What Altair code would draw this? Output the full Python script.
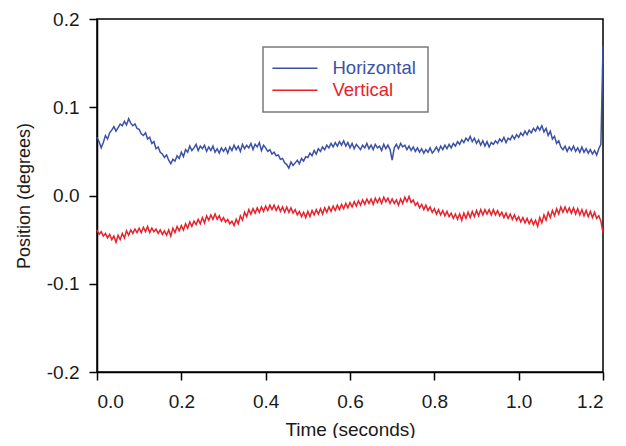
import altair as alt
import pandas as pd

# time samples (seconds), one every 0.005 s
time_s = [round(i * 0.005, 3) for i in range(241)]

horizontal = [
    0.066, 0.061, 0.054, 0.060, 0.068, 0.064, 0.071, 0.074, 0.078, 0.073, 0.077, 0.081, 0.079, 0.084, 0.080, 0.087, 0.082, 0.079, 0.081, 0.076,
    0.075, 0.070, 0.068, 0.071, 0.064, 0.066, 0.059, 0.061, 0.053, 0.055, 0.049, 0.047, 0.043, 0.046, 0.040, 0.036, 0.041, 0.039, 0.045, 0.042,
    0.049, 0.044, 0.052, 0.049, 0.056, 0.051, 0.054, 0.058, 0.051, 0.056, 0.053, 0.057, 0.050, 0.055, 0.051, 0.056, 0.049, 0.053, 0.048, 0.054,
    0.050, 0.054, 0.048, 0.055, 0.051, 0.057, 0.052, 0.056, 0.050, 0.058, 0.053, 0.057, 0.054, 0.059, 0.052, 0.058, 0.055, 0.060, 0.051, 0.057,
    0.054, 0.050, 0.052, 0.047, 0.049, 0.045, 0.046, 0.041, 0.042, 0.037, 0.035, 0.031, 0.038, 0.034, 0.037, 0.040, 0.036, 0.042, 0.039, 0.044,
    0.043, 0.048, 0.045, 0.051, 0.047, 0.053, 0.050, 0.055, 0.052, 0.057, 0.054, 0.059, 0.055, 0.060, 0.056, 0.061, 0.057, 0.062, 0.056, 0.060,
    0.054, 0.059, 0.053, 0.058, 0.055, 0.052, 0.057, 0.054, 0.059, 0.053, 0.057, 0.052, 0.058, 0.054, 0.056, 0.051, 0.058, 0.053, 0.057, 0.052,
    0.040, 0.054, 0.058, 0.053, 0.059, 0.055, 0.057, 0.052, 0.056, 0.051, 0.055, 0.050, 0.054, 0.049, 0.053, 0.048, 0.052, 0.049, 0.054, 0.048,
    0.051, 0.055, 0.050, 0.056, 0.052, 0.057, 0.053, 0.058, 0.054, 0.059, 0.056, 0.061, 0.058, 0.063, 0.060, 0.065, 0.062, 0.067, 0.061, 0.065,
    0.059, 0.063, 0.057, 0.062, 0.056, 0.061, 0.055, 0.060, 0.058, 0.062, 0.059, 0.064, 0.061, 0.066, 0.060, 0.065, 0.063, 0.068, 0.064, 0.069,
    0.066, 0.071, 0.068, 0.073, 0.069, 0.074, 0.071, 0.076, 0.073, 0.078, 0.074, 0.079, 0.072, 0.076, 0.068, 0.073, 0.064, 0.067, 0.059, 0.062,
    0.055, 0.052, 0.056, 0.050, 0.055, 0.051, 0.056, 0.050, 0.054, 0.049, 0.055, 0.049, 0.053, 0.048, 0.052, 0.047, 0.051, 0.046, 0.053, 0.058,
    0.170,
]

vertical = [
    -0.039, -0.044, -0.041, -0.046, -0.043, -0.048, -0.044, -0.050, -0.046, -0.053, -0.045, -0.050, -0.043, -0.048, -0.040, -0.045, -0.039, -0.043, -0.038, -0.042,
    -0.037, -0.042, -0.036, -0.041, -0.035, -0.042, -0.037, -0.041, -0.038, -0.043, -0.039, -0.044, -0.040, -0.045, -0.039, -0.046, -0.037, -0.042, -0.035, -0.040,
    -0.034, -0.039, -0.032, -0.037, -0.030, -0.035, -0.029, -0.033, -0.027, -0.032, -0.025, -0.031, -0.023, -0.028, -0.022, -0.027, -0.021, -0.027, -0.023, -0.029,
    -0.025, -0.030, -0.027, -0.032, -0.029, -0.034, -0.027, -0.032, -0.023, -0.028, -0.019, -0.024, -0.016, -0.021, -0.015, -0.020, -0.014, -0.019, -0.013, -0.018,
    -0.012, -0.017, -0.011, -0.016, -0.011, -0.017, -0.012, -0.018, -0.013, -0.019, -0.013, -0.019, -0.014, -0.020, -0.016, -0.022, -0.018, -0.024, -0.019, -0.025,
    -0.018, -0.024, -0.017, -0.022, -0.016, -0.021, -0.015, -0.021, -0.014, -0.019, -0.013, -0.018, -0.012, -0.017, -0.011, -0.016, -0.010, -0.015, -0.009, -0.014,
    -0.008, -0.013, -0.007, -0.012, -0.006, -0.011, -0.005, -0.010, -0.004, -0.009, -0.004, -0.010, -0.003, -0.008, -0.003, -0.009, -0.002, -0.007, -0.003, -0.009,
    -0.004, -0.009, -0.005, -0.011, -0.004, -0.009, -0.002, -0.007, -0.001, -0.008, -0.005, -0.011, -0.008, -0.014, -0.010, -0.016, -0.011, -0.017, -0.013, -0.019,
    -0.015, -0.021, -0.016, -0.022, -0.017, -0.023, -0.018, -0.024, -0.020, -0.026, -0.021, -0.027, -0.021, -0.028, -0.020, -0.026, -0.019, -0.025, -0.018, -0.024,
    -0.017, -0.023, -0.016, -0.022, -0.016, -0.021, -0.016, -0.022, -0.016, -0.022, -0.017, -0.023, -0.019, -0.025, -0.020, -0.026, -0.021, -0.027, -0.022, -0.028,
    -0.024, -0.030, -0.025, -0.031, -0.026, -0.032, -0.027, -0.033, -0.028, -0.035, -0.025, -0.031, -0.022, -0.028, -0.019, -0.025, -0.017, -0.023, -0.015, -0.021,
    -0.013, -0.019, -0.013, -0.019, -0.014, -0.020, -0.014, -0.021, -0.015, -0.022, -0.016, -0.023, -0.017, -0.024, -0.018, -0.025, -0.019, -0.026, -0.023, -0.029,
    -0.042,
]

series_names = ["Horizontal", "Vertical"]
series_colors = ["#3b51a5", "#e8212b"]
x_ticks = [0.0, 0.2, 0.4, 0.6, 0.8, 1.0, 1.2]
y_ticks = [-0.2, -0.1, 0.0, 0.1, 0.2]

rows = []
for t, h in zip(time_s, horizontal):
    rows.append({"t": t, "v": h, "series": "Horizontal"})
for t, v in zip(time_s, vertical):
    rows.append({"t": t, "v": v, "series": "Vertical"})
df = pd.DataFrame(rows)

FONT = "Liberation Sans"
label_expr = "datum.value < 0 ? '-' + format(-datum.value, '.1f') : format(datum.value, '.1f')"
legend_color_expr = (
    "datum.value == '" + series_names[0] + "' ? '" + series_colors[0] + "' : '" + series_colors[1] + "'"
)

chart = (
    alt.Chart(df)
    .mark_line(strokeWidth=1.5, clip=False)
    .encode(
        x=alt.X(
            "t:Q",
            scale=alt.Scale(domain=[0, 1.2], nice=False),
            axis=alt.Axis(
                title="Time (seconds)",
                values=x_ticks,
                labelExpr=label_expr,
                grid=False,
                tickSize=8,
                labelPadding=12,
                titlePadding=9,
                titleFontSize=19,
            ),
        ),
        y=alt.Y(
            "v:Q",
            scale=alt.Scale(domain=[-0.2, 0.2], nice=False),
            axis=alt.Axis(
                title="Position (degrees)",
                values=y_ticks,
                labelExpr=label_expr,
                grid=False,
                tickSize=8,
                labelPadding=10,
                titlePadding=13,
                titleFontSize=18,
            ),
        ),
        color=alt.Color(
            "series:N",
            scale=alt.Scale(domain=series_names, range=series_colors),
            legend=alt.Legend(
                title=None,
                orient="none",
                legendX=166,
                legendY=28,
                symbolType="M-2.1,0H5.9",
                symbolSize=127,
                symbolStrokeWidth=1.5,
                labelFontSize=18.5,
                labelFont=FONT,
                labelOffset=39,
                labelColor={"expr": legend_color_expr},
                strokeColor="#7a7a7a",
                fillColor="white",
                padding=12,
                rowPadding=3,
            ),
        ),
        order="t:Q",
        detail="series:N",
    )
    .properties(
        width=506,
        height=353,
        autosize=alt.AutoSizeParams(type="none"),
        padding={"left": 89, "top": 11, "right": 15, "bottom": 66},
    )
    .configure_view(stroke="black", strokeWidth=1.5)
    .configure_axis(
        domainColor="black",
        domainWidth=1.5,
        tickColor="black",
        tickWidth=1.5,
        labelFont=FONT,
        labelFontSize=19,
        labelColor="#1a1a1a",
        titleFont=FONT,
        titleFontWeight="normal",
        titleColor="#1a1a1a",
    )
    .configure_legend(strokeWidth=1.5)
)

chart.save("out.html", embed_options={"renderer": "svg", "actions": False})
